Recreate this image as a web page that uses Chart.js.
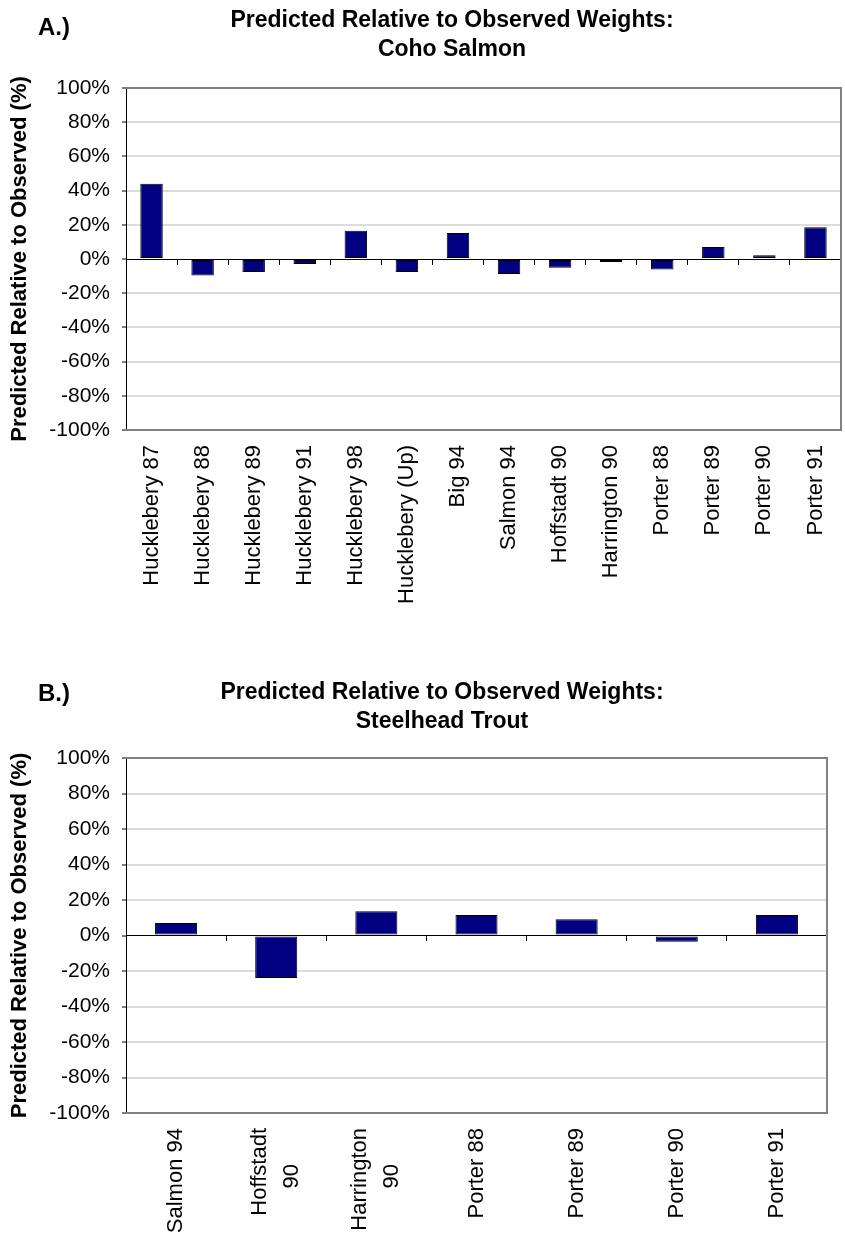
<!DOCTYPE html>
<html>
<head>
<meta charset="utf-8">
<script src="https://cdn.jsdelivr.net/npm/chart.js@4.4.1/dist/chart.umd.min.js"></script>
<style>
  html, body { margin: 0; padding: 0; background: #fff; }
  #page { position: relative; width: 845px; height: 1236px; }
  canvas { position: absolute; left: 0; }
  .panel-tag { position: absolute; left: 38px; z-index: 2; font: bold 24px/24px "Liberation Sans", Arial, sans-serif; color: #000; }
  .chart-title { position: absolute; z-index: 2; width: 600px; text-align: center; white-space: nowrap;
                 font: bold 23px/29px "Liberation Sans", Arial, sans-serif; color: #000; }
</style>
</head>
<body>
<div id="page">
  <canvas id="cohoChart" width="845" height="620" style="top:0"></canvas>
  <canvas id="steelheadChart" width="845" height="616" style="top:620px"></canvas>
  <div class="panel-tag" style="top:15px">A.)</div>
  <div class="panel-tag" style="top:681px">B.)</div>
  <div class="chart-title" id="cohoTitle" style="left:152px; top:4.5px"></div>
  <div class="chart-title" id="steelheadTitle" style="left:142px; top:676.5px"></div>
</div>
<script>
// values, percent
const cohoSites = ['Hucklebery 87', 'Hucklebery 88', 'Hucklebery 89', 'Hucklebery 91', 'Hucklebery 98',
    'Hucklebery (Up)', 'Big 94', 'Salmon 94', 'Hoffstadt 90', 'Harrington 90',
    'Porter 88', 'Porter 89', 'Porter 90', 'Porter 91'];
const cohoValues = [44, -9.7, -7.6, -2.9, 16.5, -7.6, 15.2, -8.8, -5.1, -1.8, -6.2, 7.0, 2.2, 18.5];

const steelheadSites = ['Salmon 94', ['Hoffstadt', '90'], ['Harrington', '90'], 'Porter 88', 'Porter 89', 'Porter 90', 'Porter 91'];
const steelheadValues = [7.1, -23.9, 13.7, 11.6, 9.2, -3.5, 11.6];

const percentTicks = [-100, -80, -60, -40, -20, 0, 20, 40, 60, 80, 100];

const yAxisTitle = 'Predicted Relative to Observed (%)';
const titleLine = 'Predicted Relative to Observed Weights:';

Chart.defaults.font.family = '"Liberation Sans", Arial, sans-serif';
Chart.defaults.color = '#000';

const labelFont = { size: 22, lineHeight: '30px' };

// grey top and right edges of the plot box
const plotFrame = {
    id: 'plotFrame',
    beforeDatasetsDraw(chart) {
        const a = chart.chartArea;
        const ctx = chart.ctx;
        ctx.save();
        ctx.strokeStyle = '#808080';
        ctx.lineWidth = 2;
        ctx.beginPath();
        ctx.moveTo(a.left, a.top);
        ctx.lineTo(a.right, a.top);
        ctx.lineTo(a.right, a.bottom);
        ctx.stroke();
        ctx.restore();
    }
};

// fixed height and no side padding, so the rotated labels don't squeeze the plot
function fixedHeight(h) {
    return (scale) => {
        scale.height = h;
        scale.paddingLeft = 0;
        scale.paddingRight = 0;
    };
}

// one line of a wrapped site name, drawn on its own axis along the bottom
function wrappedLineAxis(line, offset, padding) {
    return {
        type: 'category',
        position: { y: -100 },
        offset: true,
        afterFit: fixedHeight(0),
        grid: { display: false, drawTicks: false, offset: true },
        border: { display: false },
        ticks: {
            autoSkip: false,
            minRotation: 90,
            maxRotation: 90,
            padding: padding,
            labelOffset: offset,
            font: labelFont,
            callback: function (value) {
                const l = this.getLabelForValue(value);
                return Array.isArray(l) ? l[line] : '';
            }
        }
    };
}

function makeChart(canvasId, titleId, sites, values, species, layout) {
    const title = document.getElementById(titleId);
    title.innerHTML = titleLine + '<br>' + species;

    const ctx = document.getElementById(canvasId).getContext('2d');
    return new Chart(ctx, {
        type: 'bar',
        data: {
            labels: sites,
            datasets: [{
                data: values,
                backgroundColor: '#000080',
                borderColor: '#000000',
                borderWidth: 1,
                borderSkipped: false,
                barPercentage: layout.barPercentage,
                categoryPercentage: 1.0
            }]
        },
        plugins: [plotFrame],
        options: {
            responsive: false,
            animation: false,
            events: [],
            layout: {
                padding: { left: 0, right: 845 - layout.plotRight, top: layout.plotTop, bottom: 0 }
            },
            plugins: {
                legend: { display: false },
                tooltip: { enabled: false },
                title: { display: false }
            },
            scales: {
                y: {
                    min: -100,
                    max: 100,
                    afterFit: (scale) => { scale.width = 126; },
                    ticks: {
                        stepSize: 10,
                        padding: 12,
                        font: { size: 21 },
                        callback: (v) => percentTicks.includes(v) ? v + '%' : ''
                    },
                    grid: {
                        color: (c) => {
                            const v = c.tick ? c.tick.value : 0;
                            return (percentTicks.includes(v) && v !== 0 && Math.abs(v) !== 100) ? '#dcdcdc' : 'rgba(0,0,0,0)';
                        },
                        lineWidth: 2,
                        tickColor: '#000',
                        tickWidth: 1,
                        tickLength: 4
                    },
                    border: { display: true, color: '#000', width: 1 },
                    title: {
                        display: true,
                        text: yAxisTitle,
                        color: '#000',
                        font: { size: 22, weight: 'bold' },
                        padding: { top: 6.8, bottom: 0 }
                    }
                },
                x: {
                    type: 'category',
                    offset: true,
                    afterFit: fixedHeight(layout.xHeight),
                    grid: { display: false, drawTicks: false, offset: true },
                    border: { display: true, color: '#808080', width: 2 },
                    ticks: {
                        autoSkip: false,
                        minRotation: 90,
                        maxRotation: 90,
                        padding: 15,
                        font: labelFont,
                        callback: function (value) {
                            const l = this.getLabelForValue(value);
                            return Array.isArray(l) ? '' : l;
                        }
                    }
                },
                xLine1: wrappedLineAxis(0, -16, 15),
                xLine2: wrappedLineAxis(1, 16, 51),
                // axis line through 0% with marks between categories
                xZero: {
                    type: 'category',
                    position: { y: 0 },
                    offset: true,
                    afterFit: fixedHeight(0),
                    grid: {
                        display: true,
                        drawOnChartArea: false,
                        drawTicks: true,
                        offset: true,
                        tickLength: 5,
                        tickColor: '#000',
                        tickWidth: 1
                    },
                    border: { display: true, color: '#000', width: 1 },
                    ticks: { display: false }
                }
            }
        }
    });
}

makeChart('cohoChart', 'cohoTitle', cohoSites, cohoValues, 'Coho Salmon', {
    plotTop: 88, plotRight: 841, xHeight: 190, barPercentage: 0.44
});

makeChart('steelheadChart', 'steelheadTitle', steelheadSites, steelheadValues, 'Steelhead Trout', {
    plotTop: 138, plotRight: 827, xHeight: 123, barPercentage: 0.42
});
</script>
</body>
</html>
